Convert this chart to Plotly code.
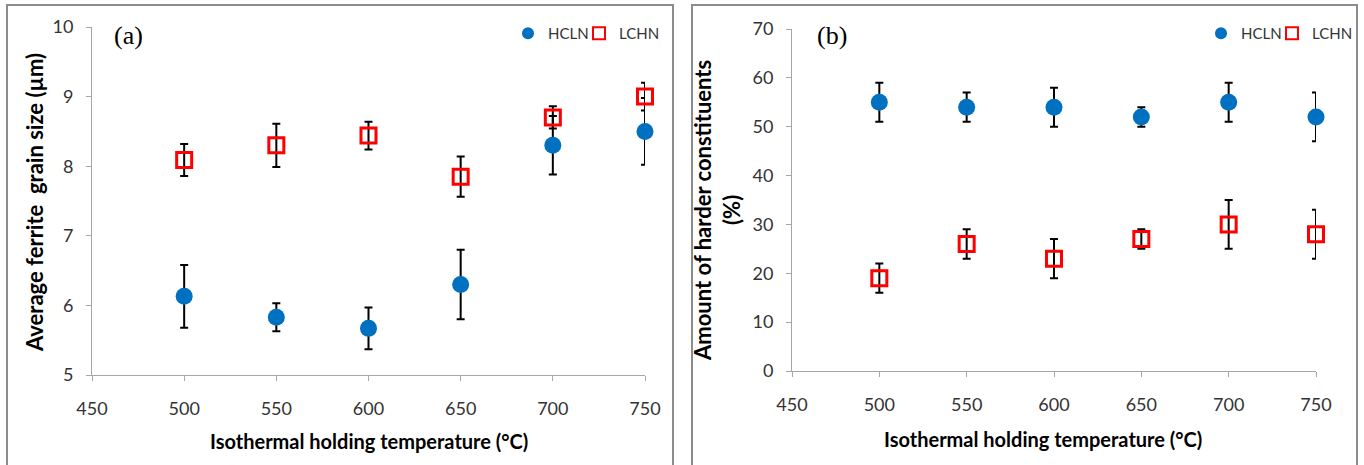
import plotly.graph_objects as go

temps = [500, 550, 600, 650, 700, 750]
x_ticks = [450, 500, 550, 600, 650, 700, 750]

# Panel (a): average ferrite grain size (um)
hcln_a = [6.13, 5.83, 5.67, 6.30, 8.30, 8.50]
hcln_a_err = [0.45, 0.20, 0.30, 0.50, 0.42, 0.48]
lchn_a = [8.09, 8.30, 8.44, 7.85, 8.70, 9.00]
lchn_a_err = [0.23, 0.31, 0.20, 0.29, 0.16, 0.20]

# Panel (b): amount of harder constituents (%)
hcln_b = [55, 54, 54, 52, 55, 52]
hcln_b_err = [4, 3, 4, 2, 4, 5]
lchn_b = [19, 26, 23, 27, 30, 28]
lchn_b_err = [3, 3, 4, 2, 5, 5]

W, H = 1364, 465
BLUE = "#0070C0"
RED = "#FF0000"
FONT = "Lato"

def err(vals):
    return dict(type="data", array=vals, visible=True, color="black", thickness=2, width=4)

circle = dict(symbol="circle", size=17, color=BLUE)
square = dict(symbol="square-open", size=15, color=RED, line=dict(width=3, color=RED))

fig = go.Figure()
fig.add_trace(go.Scatter(x=temps, y=hcln_a, mode="markers", name="HCLN", marker=circle, cliponaxis=False,
                         error_y=err(hcln_a_err), xaxis="x", yaxis="y", legend="legend"))
fig.add_trace(go.Scatter(x=temps, y=lchn_a, mode="markers", name="LCHN", marker=square, cliponaxis=False,
                         error_y=err(lchn_a_err), xaxis="x", yaxis="y", legend="legend2"))
fig.add_trace(go.Scatter(x=temps, y=hcln_b, mode="markers", name="HCLN", marker=circle, cliponaxis=False,
                         error_y=err(hcln_b_err), xaxis="x2", yaxis="y2", legend="legend3"))
fig.add_trace(go.Scatter(x=temps, y=lchn_b, mode="markers", name="LCHN", marker=square, cliponaxis=False,
                         error_y=err(lchn_b_err), xaxis="x2", yaxis="y2", legend="legend4"))

axis_common = dict(showgrid=False, zeroline=False, showline=True, linecolor="#A6A6A6", linewidth=1,
                   ticks="outside", ticklen=5, tickcolor="#A6A6A6", automargin=False,
                   tickfont=dict(family=FONT, size=18, color="#333"))
xaxis_common = dict(ticklabelstandoff=12, **axis_common)
yaxis_common = dict(ticklabelstandoff=9, **axis_common)

legend_common = dict(orientation="h", xanchor="left", yanchor="top", itemsizing="constant",
                     font=dict(family=FONT, size=15, color="#333"), bgcolor="rgba(0,0,0,0)",
                     itemwidth=30, tracegroupgap=0, borderwidth=0)
LEG_Y = 1 - 17 / H

fig.update_layout(
    width=W, height=H, margin=dict(l=0, r=0, t=0, b=0, autoexpand=False),
    paper_bgcolor="white", plot_bgcolor="white",
    font=dict(family=FONT),
    xaxis=dict(domain=[92 / W, 645 / W], range=[450, 750], tickvals=x_ticks, anchor="y", **xaxis_common),
    yaxis=dict(domain=[90 / H, 438 / H], range=[5, 10], dtick=1, anchor="x", **yaxis_common),
    xaxis2=dict(domain=[792 / W, 1316 / W], range=[450, 750], tickvals=x_ticks, anchor="y2", **xaxis_common),
    yaxis2=dict(domain=[94 / H, 436 / H], range=[0, 70], dtick=10, anchor="x2", **yaxis_common),
    legend=dict(x=508 / W, y=LEG_Y, **legend_common),
    legend2=dict(x=579 / W, y=LEG_Y, **legend_common),
    legend3=dict(x=1201 / W, y=LEG_Y, **legend_common),
    legend4=dict(x=1272 / W, y=LEG_Y, **legend_common),
    showlegend=True,
)

# panel borders
for x0, x1 in [(7, 673), (692, 1357)]:
    fig.add_shape(type="rect", xref="paper", yref="paper", x0=x0 / W, x1=x1 / W, y0=-0.05, y1=1 - 5 / H,
                  line=dict(color="#8C8C8C", width=2), fillcolor="rgba(0,0,0,0)", layer="below")

XT_FONT = dict(family=FONT, size=20, color="black")
YT_FONT = dict(family=FONT, size=22, color="black")
ann = []
ann.append(dict(text="(a)", x=112 / W, y=1 - 35 / H, xanchor="left", yanchor="middle",
                font=dict(family="Liberation Serif", size=26, color="black")))
ann.append(dict(text="(b)", x=815 / W, y=1 - 35 / H, xanchor="left", yanchor="middle",
                font=dict(family="Liberation Serif", size=26, color="black")))
ann.append(dict(text="<b>Isothermal holding temperature (°C)</b>", x=369 / W, y=1 - 441 / H,
                xanchor="center", yanchor="middle", font=XT_FONT))
ann.append(dict(text="<b>Isothermal holding temperature (°C)</b>", x=1043 / W, y=1 - 439 / H,
                xanchor="center", yanchor="middle", font=XT_FONT))
ann.append(dict(text="<b>Average ferrite  grain size (µm)</b>", x=35 / W, y=1 - 203 / H, textangle=-90,
                xanchor="center", yanchor="middle", font=YT_FONT))
ann.append(dict(text="<b>Amount of harder constituents<br>(%)</b>", x=717 / W, y=1 - 211 / H, textangle=-90,
                xanchor="center", yanchor="middle", font=YT_FONT))
for a in ann:
    a.update(xref="paper", yref="paper", showarrow=False)
fig.update_layout(annotations=ann)

fig.write_html("out.html")
